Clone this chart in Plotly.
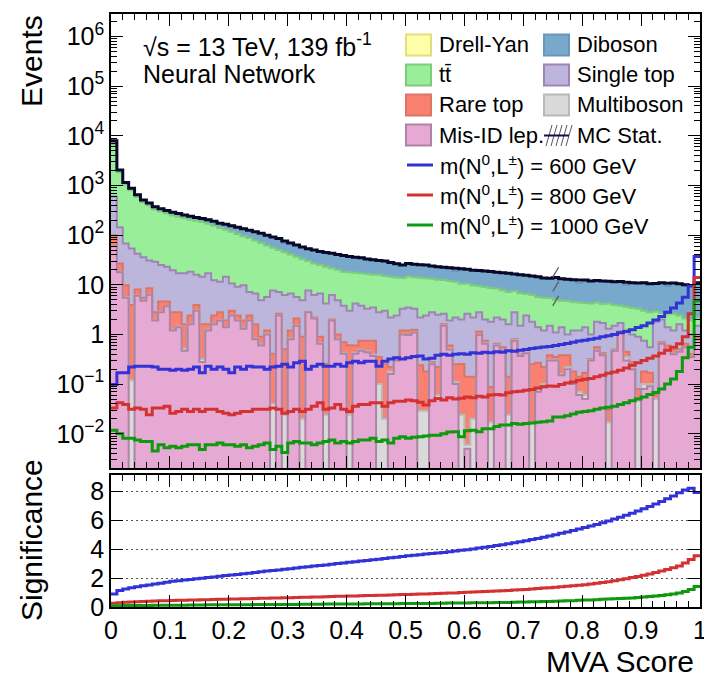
import math
import plotly.graph_objects as go

# ---------------------------------------------------------------- binning
bin_edges = [round(0.01 * i, 2) for i in range(101)]

# ------------------------------------------- background yields per bin
# stack order, bottom -> top
mis_id_lep = [
    60, 18, 5.5, 0, 6.0, 4.8, 6.3, 1.9, 2.8, 3.7,
    1.2, 1.4, 0.47, 1.6, 3.0, 0.28, 1.2, 1.6, 1.9, 1.4,
    2.4, 1.9, 1.3, 1.9, 0.8, 0.6, 1.0, 0, 2.4, 0,
    0.8, 1.5, 0, 2.8, 2.1, 0.65, 0, 1.9, 0.8, 0.41,
    0, 0.41, 0.47, 0.44, 0.37, 0, 0, 0.16, 0.3, 1.0,
    0.97, 1.1, 0, 0, 0.25, 0.05, 1.5, 0.5, 0.1, 0,
    0.005, 0, 0.97, 0.65, 0, 0.6, 0.47, 0, 0.75, 0.37,
    0.42, 0, 0.07, 0.09, 0.3, 0.3, 0.15, 0.2, 0.1, 0.06,
    0.05, 0.3, 0.47, 0.38, 0, 0.47, 1.1, 0.3, 0.2, 0,
    0.08, 0.09, 0, 0.65, 0.47, 0.4, 0.45, 0.55, 0.35, 0.8,
]
multiboson = [
    0.5, 0.3, 0.2, 0.12, 0.1, 0.1, 0.1, 0.08, 0.08, 0.06,
    0.05, 0.05, 0.05, 0.04, 0.04, 0.04, 0.04, 0.04, 0.03, 0.03,
    0.03, 0.03, 0.03, 0.03, 0.03, 0.03, 0.03, 0.04, 0.03, 0.024,
    0.03, 0.03, 0.02, 0.02, 0.02, 0.02, 0.024, 0.02, 0.02, 0.02,
    0.024, 0.02, 0.02, 0.02, 0.02, 0.1, 0.02, 0.02, 0.02, 0.02,
    0.02, 0.02, 0.029, 0.029, 0.01, 0.01, 0.02, 0.02, 0.01, 0.024,
    0.001, 0.02, 0.02, 0.02, 0.017, 0.02, 0.02, 0.024, 0.02, 0.01,
    0.02, 0.017, 0.01, 0.01, 0.01, 0.01, 0.01, 0.02, 0.01, 0.01,
    0.01, 0.01, 0.01, 0.01, 0.017, 0.01, 0.01, 0.05, 0.01, 0.047,
    0.02, 0.01, 0.05, 0.01, 0.01, 0.01, 0.01, 0.01, 0.01, 0.01,
]
rare_top = [
    39.5, 8.7, 4.1, 3.78, 1.9, 0.6, 2.1, 0.82, 1.72, 0.84,
    1.55, 1.35, 1.08, 0.76, 0.86, 1.28, 0.36, 0.76, 0.87, 0.47,
    0.57, 0.47, 0.57, 0.47, 0.77, 0.27, 0.17, 0.37, 0.17, 0.48,
    0.37, 0.57, 0.88, 0.03, 0.08, 0.23, 0.23, 0.08, 0.18, 0.27,
    0.58, 0.17, 0.26, 0.29, 0.36, 0.25, 0.23, 0.04, 0.02, 0.18,
    0.21, 0.13, 0.21, 0.15, 0.02, 0.16, 0.08, 0.08, 0.14, 0.23,
    0.134, 0.12, 0.16, 0.08, 0.07, 0.03, 0.06, 0.116, 0.03, 0.02,
    0.06, 0.233, 0.19, 0.12, 0.07, 0.04, 0.22, 0.16, 0.07, 0.07,
    0.11, 0.01, 0.07, 0.03, 0.013, 0.02, 0.04, 0.1, 0.07, 0.033,
    0.08, 0.07, 0.01, 0.04, 0.12, 0.09, 0.04, 0.09, 0.04, 0.09,
]
single_top = [
    500, 118, 58.2, 50.1, 34, 30.5, 22.5, 26.2, 20.4, 18.4,
    16.9, 14.2, 15.4, 16, 12, 12.9, 15.4, 10, 8.7, 12.6,
    7.6, 6.7, 7.9, 4.8, 5.1, 4.0, 4.5, 7.3, 4.6, 5.7,
    5.5, 3.6, 4.0, 4.85, 4.0, 5.8, 3.95, 4.2, 3.9, 3.1,
    2.4, 3.6, 3.05, 2.55, 2.75, 2.45, 2.75, 1.98, 2.06, 2.1,
    2.3, 2.05, 1.96, 2.22, 2.52, 2.28, 1.0, 1.3, 1.95, 1.75,
    2.46, 2.06, 1.65, 1.25, 1.71, 1.55, 1.45, 1.46, 2.0, 1.1,
    1.9, 1.55, 1.13, 0.98, 1.12, 0.75, 1.02, 0.62, 1.02, 1.06,
    1.23, 0.68, 1.25, 1.28, 1.27, 1.0, 0.55, 0.75, 0.72, 0.82,
    0.57, 0.38, 1.74, 1.3, 0.8, 0.7, 1.1, 0.55, 0.6, 0.6,
]
ttbar = [
    6200, 1705, 982, 746, 548, 424, 369, 301, 275, 252,
    230, 218, 203, 187, 179, 170, 153, 143, 128, 114,
    107, 96, 85, 80, 71, 65, 56, 48, 43, 39,
    34, 31, 28, 22.3, 20.8, 18.3, 18.8, 15.3, 15.1, 14.6,
    15, 13.3, 13.2, 13.2, 12.5, 13.1, 12, 12.3, 11.6, 10.4,
    11.2, 10.9, 11.6, 11.1, 10.4, 10.2, 9.9, 10.1, 9.3, 8.5,
    7.9, 7.6, 6.7, 7.0, 6.8, 6.2, 5.8, 5.6, 4.7, 5.3,
    4.1, 4.4, 4.3, 4.3, 3.9, 3.9, 3.4, 3.7, 3.3, 3.2,
    2.9, 3.2, 2.6, 2.4, 2.9, 2.4, 2.1, 2.4, 2.4, 2.4,
    2.25, 2.25, 1.1, 0.7, 1.2, 1.4, 0.8, 0.9, 0.93, 0.7,
]
diboson = [
    1200, 200, 100, 80, 60, 50, 45, 42, 40, 40,
    40, 37, 35, 35, 33, 33, 35, 35, 35, 37,
    37, 40, 40, 38, 39, 40, 38, 36, 35, 24,
    29, 27, 25, 23, 23, 22, 22, 21.5, 21, 20.6,
    19, 18.5, 18, 16.5, 16, 15.1, 15, 13.5, 12.5, 11.3,
    12.3, 11.8, 11.7, 11.5, 10.8, 10.3, 10, 10, 7.5, 10.5,
    10, 9.9, 10, 10, 9.9, 9.6, 9.7, 9.8, 9, 9.2,
    9, 8.8, 8.8, 8.2, 8.1, 9, 8.5, 8.3, 8.2, 6.6,
    8.2, 7.8, 7.8, 7.9, 7.6, 7.6, 7.8, 6.4, 7.6, 7.6,
    8, 7.7, 7.7, 8.3, 6.9, 8.3, 8.1, 7.9, 7.77, 8.8,
]
drell_yan = [
    0, 0, 0, 0, 0, 0, 0, 0, 0, 0,
    0, 0, 0, 0, 0, 0, 0, 0, 0, 0,
    0, 0, 0, 0, 0, 0, 0, 0, 0, 7,
    0, 0, 0, 0, 0, 0, 0, 0, 0, 0,
    0, 0, 0, 0, 0, 0, 0, 0, 0, 0,
    0, 0, 0, 0, 0, 0, 0, 0, 2.5, 0,
    0, 0, 0, 0, 0, 0, 0, 0, 0, 0,
    0, 0, 0, 0, 0, 0, 0, 0, 0, 1.5,
    0, 0, 0, 0, 0, 0, 0, 1.2, 0, 0,
    0, 0, 0, 0, 1.3, 0, 0, 0, 0, 0,
]

# --------------------------------------------------- signal yields per bin
signal_600 = [
    0.098, 0.17, 0.17, 0.22, 0.23, 0.23, 0.23, 0.22, 0.20, 0.20,
    0.19, 0.20, 0.19, 0.20, 0.22, 0.17, 0.23, 0.20, 0.22, 0.20,
    0.17, 0.22, 0.20, 0.23, 0.22, 0.22, 0.20, 0.22, 0.23, 0.25,
    0.22, 0.27, 0.29, 0.20, 0.23, 0.25, 0.23, 0.23, 0.25, 0.23,
    0.27, 0.29, 0.27, 0.29, 0.29, 0.23, 0.29, 0.32, 0.34, 0.32,
    0.34, 0.36, 0.37, 0.32, 0.33, 0.38, 0.40, 0.38, 0.40, 0.41,
    0.40, 0.43, 0.42, 0.44, 0.43, 0.45, 0.44, 0.47, 0.46, 0.48,
    0.50, 0.52, 0.54, 0.56, 0.57, 0.60, 0.63, 0.66, 0.70, 0.74,
    0.76, 0.80, 0.84, 0.90, 0.94, 1.00, 1.08, 1.15, 1.25, 1.38,
    1.50, 1.70, 1.95, 2.3, 2.8, 3.4, 4.3, 5.6, 9.5, 37,
]
signal_800 = [
    0.033, 0.042, 0.039, 0.031, 0.033, 0.031, 0.024, 0.033, 0.033, 0.036,
    0.026, 0.028, 0.031, 0.028, 0.031, 0.028, 0.031, 0.031, 0.028, 0.026,
    0.024, 0.026, 0.028, 0.028, 0.031, 0.031, 0.031, 0.033, 0.031, 0.026,
    0.028, 0.031, 0.028, 0.031, 0.036, 0.042, 0.031, 0.033, 0.039, 0.031,
    0.028, 0.036, 0.039, 0.039, 0.042, 0.042, 0.036, 0.042, 0.045, 0.045,
    0.048, 0.046, 0.043, 0.038, 0.046, 0.051, 0.048, 0.053, 0.050, 0.052,
    0.055, 0.053, 0.057, 0.055, 0.060, 0.062, 0.060, 0.067, 0.070, 0.072,
    0.075, 0.078, 0.083, 0.088, 0.092, 0.090, 0.098, 0.105, 0.11, 0.12,
    0.125, 0.13, 0.14, 0.15, 0.165, 0.175, 0.19, 0.21, 0.24, 0.27,
    0.30, 0.33, 0.37, 0.42, 0.48, 0.55, 0.65, 0.90, 2.6, 14,
]
signal_1000 = [
    0.0117, 0.010, 0.0081, 0.0081, 0.0075, 0.0070, 0.0070, 0.0045, 0.0060, 0.0052,
    0.0056, 0.0052, 0.0056, 0.0060, 0.0060, 0.0048, 0.0060, 0.0060, 0.0065, 0.0060,
    0.0060, 0.0056, 0.0060, 0.0052, 0.0056, 0.0060, 0.0065, 0.0048, 0.0056, 0.0042,
    0.0065, 0.0070, 0.0065, 0.0065, 0.0060, 0.0065, 0.0070, 0.0075, 0.0065, 0.0070,
    0.0065, 0.0070, 0.0075, 0.0075, 0.0081, 0.0070, 0.0075, 0.0065, 0.0081, 0.0087,
    0.0081, 0.0085, 0.0087, 0.0090, 0.0093, 0.0093, 0.0100, 0.0108, 0.0110, 0.0087,
    0.0115, 0.0117, 0.0110, 0.0126, 0.0126, 0.0140, 0.0150, 0.0150, 0.0160, 0.0155,
    0.0160, 0.0165, 0.0170, 0.0175, 0.0180, 0.0217, 0.0217, 0.023, 0.025, 0.027,
    0.028, 0.029, 0.031, 0.033, 0.034, 0.036, 0.039, 0.042, 0.046, 0.050,
    0.055, 0.062, 0.068, 0.080, 0.10, 0.126, 0.18, 0.34, 0.55, 4.8,
]

# ------------------------------------- significance for a cut on the score
signif_600 = [
    0.91, 1.14, 1.25, 1.33, 1.40, 1.47, 1.53, 1.59, 1.65, 1.72,
    1.78, 1.82, 1.87, 1.91, 1.96, 2.00, 2.05, 2.09, 2.13, 2.18,
    2.22, 2.26, 2.31, 2.35, 2.40, 2.44, 2.49, 2.53, 2.57, 2.62,
    2.66, 2.70, 2.75, 2.79, 2.84, 2.88, 2.92, 2.97, 3.01, 3.05,
    3.10, 3.14, 3.19, 3.23, 3.28, 3.32, 3.37, 3.41, 3.46, 3.50,
    3.55, 3.59, 3.63, 3.67, 3.71, 3.75, 3.79, 3.84, 3.88, 3.93,
    3.98, 4.03, 4.09, 4.14, 4.20, 4.26, 4.32, 4.39, 4.46, 4.53,
    4.60, 4.68, 4.76, 4.84, 4.93, 5.02, 5.11, 5.21, 5.31, 5.41,
    5.51, 5.62, 5.73, 5.85, 5.97, 6.10, 6.23, 6.37, 6.51, 6.66,
    6.81, 6.97, 7.14, 7.32, 7.51, 7.71, 7.92, 8.12, 8.24, 7.95,
]
signif_800 = [
    0.26, 0.30, 0.33, 0.35, 0.37, 0.39, 0.40, 0.42, 0.43, 0.44,
    0.45, 0.46, 0.47, 0.48, 0.49, 0.50, 0.51, 0.52, 0.53, 0.54,
    0.55, 0.56, 0.57, 0.58, 0.59, 0.60, 0.61, 0.62, 0.63, 0.64,
    0.65, 0.66, 0.67, 0.68, 0.69, 0.70, 0.71, 0.72, 0.74, 0.75,
    0.76, 0.77, 0.78, 0.79, 0.80, 0.81, 0.82, 0.84, 0.85, 0.86,
    0.87, 0.88, 0.90, 0.91, 0.92, 0.94, 0.95, 0.97, 0.98, 1.00,
    1.02, 1.04, 1.05, 1.07, 1.09, 1.11, 1.13, 1.15, 1.18, 1.20,
    1.22, 1.25, 1.28, 1.31, 1.34, 1.37, 1.40, 1.44, 1.47, 1.51,
    1.55, 1.60, 1.65, 1.70, 1.76, 1.82, 1.89, 1.96, 2.04, 2.12,
    2.20, 2.29, 2.39, 2.49, 2.60, 2.72, 2.85, 3.05, 3.30, 3.55,
]
signif_1000 = [
    0.08, 0.09, 0.10, 0.10, 0.11, 0.11, 0.11, 0.12, 0.12, 0.12,
    0.13, 0.13, 0.13, 0.14, 0.14, 0.14, 0.15, 0.15, 0.15, 0.15,
    0.16, 0.16, 0.16, 0.16, 0.17, 0.17, 0.17, 0.17, 0.18, 0.18,
    0.18, 0.18, 0.19, 0.19, 0.19, 0.19, 0.20, 0.20, 0.20, 0.21,
    0.21, 0.21, 0.21, 0.22, 0.22, 0.22, 0.23, 0.23, 0.23, 0.24,
    0.24, 0.24, 0.25, 0.25, 0.25, 0.26, 0.26, 0.27, 0.27, 0.28,
    0.28, 0.29, 0.29, 0.30, 0.30, 0.31, 0.32, 0.32, 0.33, 0.34,
    0.35, 0.36, 0.37, 0.38, 0.39, 0.40, 0.41, 0.43, 0.44, 0.46,
    0.48, 0.49, 0.51, 0.53, 0.55, 0.57, 0.59, 0.61, 0.63, 0.66,
    0.69, 0.72, 0.76, 0.80, 0.85, 0.91, 0.98, 1.08, 1.22, 1.42,
]

# MC statistical uncertainty band (only visible in one bin)
mc_stat_bin = 75
mc_stat_low = 3.4
mc_stat_high = 25.0

# ------------------------------------------------------------- tick labels
events_ticks = [1e-2, 1e-1, 1, 10, 1e2, 1e3, 1e4, 1e5, 1e6]
events_labels = ["10<sup>−2</sup>", "10<sup>−1</sup>", "1", "10",
                 "10<sup>2</sup>", "10<sup>3</sup>", "10<sup>4</sup>",
                 "10<sup>5</sup>", "10<sup>6</sup>"]
score_ticks = [0, 0.1, 0.2, 0.3, 0.4, 0.5, 0.6, 0.7, 0.8, 0.9, 1.0]
score_labels = ["0", "0.1", "0.2", "0.3", "0.4", "0.5", "0.6", "0.7",
                "0.8", "0.9", "1"]
signif_ticks = [0, 2, 4, 6, 8]
signif_labels = ["0", "2", "4", "6", "8"]

# ------------------------------------------------------------------ styles
FONT = "Liberation Sans, Arial, Helvetica, sans-serif"
W, H = 704, 673
ML, MR, MT, MB = 111, 4, 14, 66
PW, PH = W - ML - MR, H - MT - MB

backgrounds = [  # bottom -> top
    ("Mis-ID lep.", mis_id_lep, "#e6a9d3", "#ad83a6"),
    ("Multiboson", multiboson, "#d9d9d9", "#b9b9b9"),
    ("Rare top", rare_top, "#fa8072", "#dd7468"),
    ("Single top", single_top, "#bcb6dc", "#9f85b3"),
    ("tt\u0304", ttbar, "#99ee99", "#7ccc7c"),
    ("Diboson", diboson, "#78a8cc", "#6a97b8"),
    ("Drell-Yan", drell_yan, "#ffffaa", "#e0e07a"),
]
signals = [
    ("600", signal_600, signif_600, "#3232d6"),
    ("800", signal_800, signif_800, "#d43232"),
    ("1000", signal_1000, signif_1000, "#0e990e"),
]

FLOOR = 1e-4  # below the visible log range


def step_y(values):
    return list(values) + [values[-1]]


def px(xp):
    return (xp - ML) / PW


def py(yp):
    return (H - MB - yp) / PH


fig = go.Figure()

# stacked fills
fig.add_trace(go.Scatter(x=bin_edges, y=[FLOOR] * len(bin_edges), mode="lines",
                         line=dict(width=0), hoverinfo="skip", showlegend=False))
running = [0.0] * len(mis_id_lep)
cumulative = []
for name, vals, fill, edge in backgrounds:
    running = [r + v for r, v in zip(running, vals)]
    cum = [max(r, FLOOR) for r in running]
    cumulative.append((cum, edge))
    fig.add_trace(go.Scatter(x=bin_edges, y=step_y(cum), mode="lines",
                             line=dict(width=0, shape="hv"), fill="tonexty",
                             fillcolor=fill, hoverinfo="skip", showlegend=False))

# outlines, lower components drawn last
for cum, edge in reversed(cumulative):
    fig.add_trace(go.Scatter(x=bin_edges, y=step_y(cum), mode="lines",
                             line=dict(width=2, shape="hv", color=edge),
                             hoverinfo="skip", showlegend=False))

# total background
total = cumulative[-1][0]
fig.add_trace(go.Scatter(x=bin_edges, y=step_y(total), mode="lines",
                         line=dict(width=3, shape="hv", color="#08082a"),
                         showlegend=False))

# signals
for mass, yields, signif, color in signals:
    fig.add_trace(go.Scatter(x=bin_edges, y=step_y(yields), mode="lines",
                             line=dict(width=3, shape="hv", color=color),
                             showlegend=False))
    fig.add_trace(go.Scatter(x=bin_edges, y=step_y(signif), mode="lines",
                             line=dict(width=3, shape="hv", color=color),
                             xaxis="x2", yaxis="y2", showlegend=False))

tick_font = dict(family=FONT, size=25, color="black")
frame = dict(showline=True, linecolor="black", linewidth=1.5, mirror="ticks",
             ticks="inside", tickcolor="black", tickwidth=1.2, zeroline=False,
             automargin=False)
minor_log = [k * 10.0 ** e for e in range(-3, 7) for k in range(2, 10)]

fig.update_layout(
    width=W, height=H, margin=dict(l=ML, r=MR, t=MT, b=MB),
    paper_bgcolor="white", plot_bgcolor="white",
    font=dict(family=FONT, color="black"),
    xaxis=dict(domain=[0, 1], anchor="y", range=[0, 1], showticklabels=False,
               tickvals=score_ticks, ticklen=12, showgrid=False,
               minor=dict(ticks="inside", ticklen=6, dtick=0.02, tick0=0,
                          tickcolor="black", tickwidth=1.2),
               **frame),
    yaxis=dict(domain=[(H - MB - 468) / PH, 1], anchor="x", type="log",
               range=[-2.69, 6.455], tickvals=events_ticks,
               ticktext=events_labels, ticklen=12, showgrid=False,
               tickfont=tick_font,
               minor=dict(ticks="inside", ticklen=6, tickvals=minor_log,
                          tickcolor="black", tickwidth=1.2),
               **frame),
    xaxis2=dict(domain=[0, 1], anchor="y2", range=[0, 1], tickvals=score_ticks,
                ticktext=score_labels, ticklen=12, showgrid=False,
                tickfont=tick_font, ticklabeloverflow="allow",
                minor=dict(ticks="inside", ticklen=6, dtick=0.02, tick0=0,
                           tickcolor="black", tickwidth=1.2),
                **frame),
    yaxis2=dict(domain=[0, (H - MB - 475) / PH], anchor="x2", range=[0, 9.16],
                tickvals=signif_ticks, ticktext=signif_labels, ticklen=12,
                tickfont=tick_font, showgrid=True, gridcolor="#555555",
                griddash="2px,3px", gridwidth=1,
                **frame),
)

annotations = []
shapes = []

# MC stat hatch strokes across the band of one bin
lo, hi = math.log10(mc_stat_low), math.log10(mc_stat_high)
n_strokes = 3
for k in range(n_strokes):
    yc = lo + (hi - lo) * (k + 0.5) / n_strokes
    shapes.append(dict(type="line", xref="x", yref="y", layer="above",
                       x0=bin_edges[mc_stat_bin], x1=bin_edges[mc_stat_bin + 1],
                       y0=10 ** (yc - 0.1), y1=10 ** (yc + 0.1),
                       line=dict(color="#5a5a6a", width=1.3)))


def text(x, y, s, size, xanchor="left", angle=0):
    annotations.append(dict(x=px(x), y=py(y), xref="paper", yref="paper",
                            text=s, showarrow=False, xanchor=xanchor,
                            yanchor="middle", textangle=angle,
                            font=dict(family=FONT, size=size, color="black")))


# axis titles
text(31, 61, "Events", 30, xanchor="center", angle=-90)
text(31, 540, "Significance", 30, xanchor="center", angle=-90)
text(696, 661, "MVA Score", 30, xanchor="right")

# labels
text(141, 45, "√s = 13 TeV, 139 fb<sup>-1</sup>", 25)
text(141, 74, "Neural Network", 25)

# legend
legend_boxes = [
    (406, 45, "Drell-Yan", "#ffffaa", "#e0e07a"),
    (406, 75, "tt\u0304", "#99ee99", "#7ccc7c"),
    (406, 105, "Rare top", "#fa8072", "#dd7468"),
    (406, 135, "Mis-ID lep.", "#e6a9d3", "#ad83a6"),
    (544, 45, "Diboson", "#78a8cc", "#6a97b8"),
    (544, 75, "Single top", "#bcb6dc", "#9f85b3"),
    (544, 105, "Multiboson", "#d9d9d9", "#b9b9b9"),
]
for x0, yc, label, fill, edge in legend_boxes:
    shapes.append(dict(type="rect", xref="paper", yref="paper",
                       x0=px(x0), x1=px(x0 + 25), y0=py(yc + 10.5),
                       y1=py(yc - 10.5), fillcolor=fill,
                       line=dict(color=edge, width=2)))
    text(x0 + 31, yc, label, 22)

# MC stat legend symbol
for k in range(5):
    xs = 546 + k * 5
    shapes.append(dict(type="line", xref="paper", yref="paper",
                       x0=px(xs), x1=px(xs + 6), y0=py(146), y1=py(125),
                       line=dict(color="#555566", width=1)))
shapes.append(dict(type="line", xref="paper", yref="paper",
                   x0=px(544), x1=px(569), y0=py(135.5), y1=py(135.5),
                   line=dict(color="#10104a", width=2)))
text(575, 135, "MC Stat.", 22)

for (mass, _, _, color), yc in zip(signals, [165, 195, 225]):
    shapes.append(dict(type="line", xref="paper", yref="paper",
                       x0=px(407), x1=px(433), y0=py(yc), y1=py(yc),
                       line=dict(color=color, width=3)))
    text(438, yc, f"m(N<sup>0</sup>,L<sup>±</sup>) = {mass} GeV", 22)

fig.update_layout(annotations=annotations, shapes=shapes)
fig.write_html("out.html")
